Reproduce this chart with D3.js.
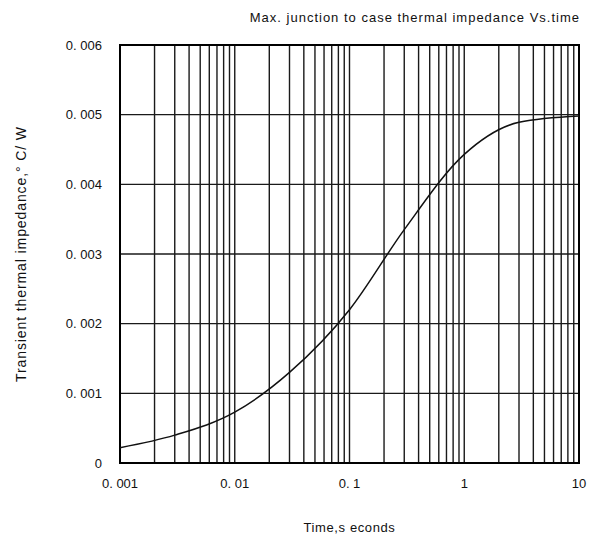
<!DOCTYPE html>
<html>
<head>
<meta charset="utf-8">
<script src="https://cdn.jsdelivr.net/npm/d3@7"></script>
<style>
  body { margin: 0; background: #fff; }
  text { font-family: "Liberation Sans", Arial, sans-serif; fill: #111; }
</style>
</head>
<body>
<div id="chart"></div>
<script>
// curve: time (s) vs impedance (°C/W)
var times = [0.001, 0.003, 0.01, 0.03, 0.1, 0.3, 1, 3, 10];
var impedance = [0.00022, 0.0004, 0.00073, 0.0013, 0.0022, 0.00335, 0.00443, 0.00489, 0.00498];

var xTicks = [0.001, 0.01, 0.1, 1, 10];
var xTickLabels = ["0. 001", "0. 01", "0. 1", "1", "10"];
var yTicks = [0, 0.001, 0.002, 0.003, 0.004, 0.005, 0.006];
var yTickLabels = ["0", "0. 001", "0. 002", "0. 003", "0. 004", "0. 005", "0. 006"];

var margin = {top: 45, right: 25, bottom: 80, left: 120},
    width  = 604 - margin.left - margin.right,
    height = 543 - margin.top - margin.bottom;

var x = d3.scaleLog()
    .domain([0.001, 10])
    .range([0, width]);

var y = d3.scaleLinear()
    .domain([0, 0.006])
    .range([height, 0]);

var svg = d3.select("#chart").append("svg")
    .attr("width", 604)
    .attr("height", 543);

var g = svg.append("g")
    .attr("transform", "translate(" + margin.left + "," + margin.top + ")");

// minor + major vertical grid (1..9 per decade)
var vgrid = [];
for (var e = -3; e < 1; e++) {
  for (var m = 1; m <= 9; m++) vgrid.push(m * Math.pow(10, e));
}
g.selectAll(".vgrid")
  .data(vgrid)
  .enter().append("line")
    .attr("class", "vgrid")
    .attr("x1", function(d) { return x(d); })
    .attr("x2", function(d) { return x(d); })
    .attr("y1", 0)
    .attr("y2", height)
    .attr("stroke", "#1a1a1a")
    .attr("stroke-width", 1.4);

g.selectAll(".hgrid")
  .data(yTicks)
  .enter().append("line")
    .attr("class", "hgrid")
    .attr("x1", 0)
    .attr("x2", width)
    .attr("y1", function(d) { return y(d); })
    .attr("y2", function(d) { return y(d); })
    .attr("stroke", "#1a1a1a")
    .attr("stroke-width", 1.4);

// frame
g.append("rect")
    .attr("width", width)
    .attr("height", height)
    .attr("fill", "none")
    .attr("stroke", "#000")
    .attr("stroke-width", 2);

// curve
var line = d3.line()
    .x(function(d, i) { return x(times[i]); })
    .y(function(d) { return y(d); })
    .curve(d3.curveMonotoneX);

g.append("path")
    .datum(impedance)
    .attr("d", line)
    .attr("fill", "none")
    .attr("stroke", "#111")
    .attr("stroke-width", 1.5);

// tick labels
g.selectAll(".ylab")
  .data(yTicks)
  .enter().append("text")
    .attr("class", "ylab")
    .attr("x", -18)
    .attr("y", function(d) { return y(d); })
    .attr("dy", "0.35em")
    .attr("text-anchor", "end")
    .style("font-size", "13px")
    .text(function(d, i) { return yTickLabels[i]; });

g.selectAll(".xlab")
  .data(xTicks)
  .enter().append("text")
    .attr("class", "xlab")
    .attr("x", function(d) { return x(d); })
    .attr("y", height + 25)
    .attr("text-anchor", "middle")
    .style("font-size", "13px")
    .text(function(d, i) { return xTickLabels[i]; });

// titles
svg.append("text")
    .attr("x", 580)
    .attr("y", 22)
    .attr("text-anchor", "end")
    .style("font-size", "13px")
    .style("letter-spacing", "1px")
    .text("Max. junction to case thermal impedance  Vs.time");

svg.append("text")
    .attr("x", margin.left + width / 2)
    .attr("y", 532)
    .attr("text-anchor", "middle")
    .style("font-size", "13px")
    .style("letter-spacing", "0.6px")
    .text("Time,s econds");

svg.append("text")
    .attr("transform", "translate(26,254) rotate(-90)")
    .attr("text-anchor", "middle")
    .style("font-size", "14px")
    .style("letter-spacing", "0.9px")
    .text("Transient thermal impedance,° C/ W");
</script>
</body>
</html>
